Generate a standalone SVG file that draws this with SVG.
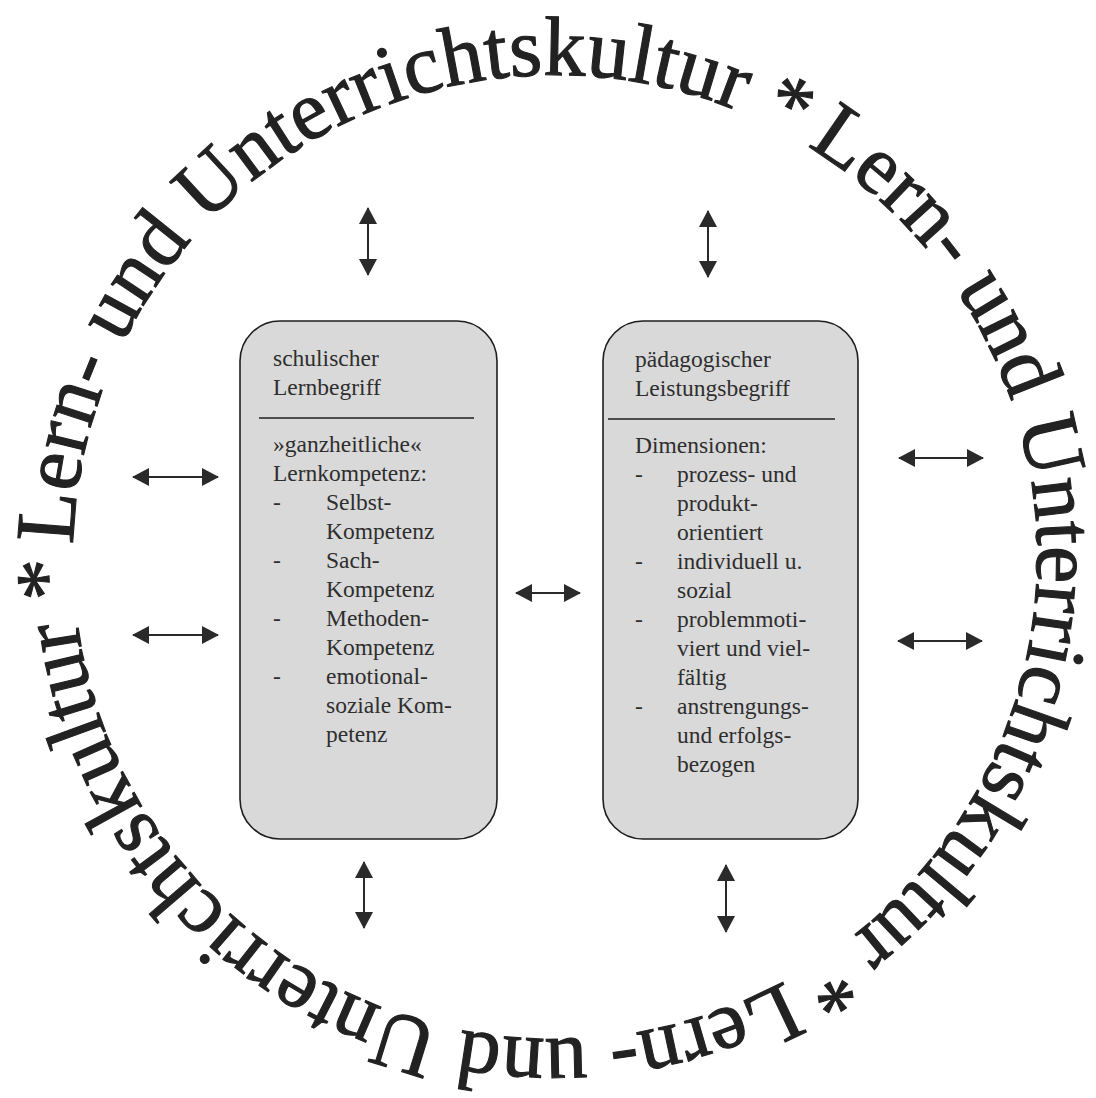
<svg xmlns="http://www.w3.org/2000/svg" xmlns:xlink="http://www.w3.org/1999/xlink" width="1096" height="1098" viewBox="0 0 1096 1098">
<style>
.ring{font-family:"Liberation Serif","Times New Roman",serif;font-size:84px;fill:#222222;stroke:#222222;stroke-width:1.1}
.box{fill:#d9d9d9;stroke:#1e1e1e;stroke-width:1.6}
.div{stroke:#1e1e1e;stroke-width:1.6}
.t{font-family:"Liberation Serif","Times New Roman",serif;font-size:23.5px;fill:#2e2e2e}
.arr{stroke:#2a2a2a;stroke-width:2;fill:none;marker-start:url(#ah);marker-end:url(#ah)}
</style>
<defs>
<path id="ringpath" d="M 73.16 544.38 A 482 482 0 1 1 1036.84 569.62 A 482 482 0 1 1 73.16 544.38"/>
<marker id="ah" viewBox="0 0 17 18" refX="16" refY="9" markerWidth="17" markerHeight="18" markerUnits="userSpaceOnUse" orient="auto-start-reverse">
<path d="M0,0 L17,9 L0,18 Z" fill="#2a2a2a"/>
</marker>
</defs>
<rect width="1096" height="1098" fill="#ffffff"/>
<g id="ring-text">
<text class="ring"><textPath xlink:href="#ringpath" href="#ringpath" startOffset="0">Lern- und Unterrichtskultur *</textPath></text>
<text class="ring"><textPath xlink:href="#ringpath" href="#ringpath" startOffset="1009.5">Lern- und Unterrichtskultur *</textPath></text>
<text class="ring"><textPath xlink:href="#ringpath" href="#ringpath" startOffset="2019">Lern- und Unterrichtskultur *</textPath></text>
</g>
<g id="node-lernbegriff">
<rect class="box" x="240" y="321" width="257" height="518" rx="40" ry="40"/>
<text class="t" x="273" y="366">schulischer</text>
<text class="t" x="273" y="395">Lernbegriff</text>
<line class="div" x1="259" y1="418" x2="474" y2="418"/>
<text class="t" x="273" y="452">»ganzheitliche«</text>
<text class="t" x="273" y="481">Lernkompetenz:</text>
<text class="t" y="510"><tspan x="273">-</tspan><tspan x="326">Selbst-</tspan></text>
<text class="t" x="326" y="539">Kompetenz</text>
<text class="t" y="568"><tspan x="273">-</tspan><tspan x="326">Sach-</tspan></text>
<text class="t" x="326" y="597">Kompetenz</text>
<text class="t" y="626"><tspan x="273">-</tspan><tspan x="326">Methoden-</tspan></text>
<text class="t" x="326" y="655">Kompetenz</text>
<text class="t" y="684"><tspan x="273">-</tspan><tspan x="326">emotional-</tspan></text>
<text class="t" x="326" y="713">soziale Kom-</text>
<text class="t" x="326" y="742">petenz</text>
</g>
<g id="node-leistungsbegriff">
<rect class="box" x="603" y="321" width="255" height="518" rx="40" ry="40"/>
<text class="t" x="635" y="367">pädagogischer</text>
<text class="t" x="635" y="396">Leistungsbegriff</text>
<line class="div" x1="608" y1="419" x2="835" y2="419"/>
<text class="t" x="635" y="453">Dimensionen:</text>
<text class="t" y="482"><tspan x="635">-</tspan><tspan x="677">prozess- und</tspan></text>
<text class="t" x="677" y="511">produkt-</text>
<text class="t" x="677" y="540">orientiert</text>
<text class="t" y="569"><tspan x="635">-</tspan><tspan x="677">individuell u.</tspan></text>
<text class="t" x="677" y="598">sozial</text>
<text class="t" y="627"><tspan x="635">-</tspan><tspan x="677">problemmoti-</tspan></text>
<text class="t" x="677" y="656">viert und viel-</text>
<text class="t" x="677" y="685">fältig</text>
<text class="t" y="714"><tspan x="635">-</tspan><tspan x="677">anstrengungs-</tspan></text>
<text class="t" x="677" y="743">und erfolgs-</text>
<text class="t" x="677" y="772">bezogen</text>
</g>
<g id="connectors">
<line class="arr" x1="368" y1="208" x2="368" y2="275"/>
<line class="arr" x1="708" y1="211" x2="708" y2="277"/>
<line class="arr" x1="133" y1="477" x2="218" y2="477"/>
<line class="arr" x1="133" y1="635" x2="218" y2="635"/>
<line class="arr" x1="516" y1="593" x2="580" y2="593"/>
<line class="arr" x1="899" y1="458" x2="983" y2="458"/>
<line class="arr" x1="898" y1="641" x2="982" y2="641"/>
<line class="arr" x1="364" y1="862" x2="364" y2="928"/>
<line class="arr" x1="726" y1="865" x2="726" y2="932"/>
</g>
</svg>
